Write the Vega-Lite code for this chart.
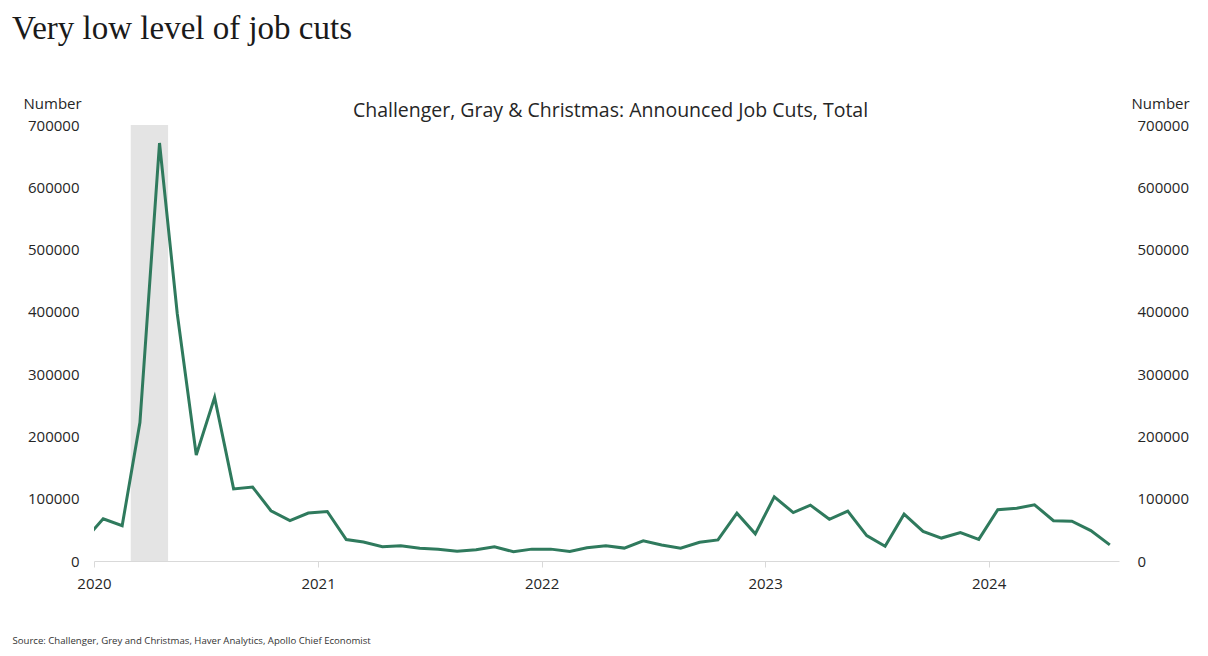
{
  "$schema": "https://vega.github.io/schema/vega-lite/v6.json",
  "width": 1025,
  "height": 436,
  "autosize": {"type": "none"},
  "padding": {"left": 94, "top": 125, "right": 89, "bottom": 95},
  "background": "white",
  "config": {
    "view": {"stroke": null},
    "font": "Open Sans",
    "axis": {"labelFont": "Open Sans", "titleFont": "Open Sans", "labelColor": "#262626", "titleColor": "#262626", "grid": false}
  },
  "title": {
    "text": "Very low level of job cuts",
    "anchor": "start",
    "frame": "group",
    "font": "Liberation Serif",
    "fontSize": 33,
    "fontWeight": "normal",
    "color": "#1a1a1a",
    "dx": -82,
    "offset": 50
  },
  "datasets": {
    "cuts": [
      {"date": "2019-12-16", "value": 32843},
      {"date": "2020-01-16", "value": 67735},
      {"date": "2020-02-16", "value": 56660},
      {"date": "2020-03-16", "value": 222288},
      {"date": "2020-04-17", "value": 671129},
      {"date": "2020-05-16", "value": 397016},
      {"date": "2020-06-16", "value": 170219},
      {"date": "2020-07-16", "value": 262649},
      {"date": "2020-08-16", "value": 115762},
      {"date": "2020-09-16", "value": 118804},
      {"date": "2020-10-16", "value": 80666},
      {"date": "2020-11-16", "value": 64797},
      {"date": "2020-12-16", "value": 77030},
      {"date": "2021-01-16", "value": 79552},
      {"date": "2021-02-16", "value": 34531},
      {"date": "2021-03-16", "value": 30603},
      {"date": "2021-04-16", "value": 22913},
      {"date": "2021-05-16", "value": 24586},
      {"date": "2021-06-16", "value": 20476},
      {"date": "2021-07-16", "value": 18942},
      {"date": "2021-08-16", "value": 15723},
      {"date": "2021-09-16", "value": 17895},
      {"date": "2021-10-16", "value": 22822},
      {"date": "2021-11-16", "value": 14875},
      {"date": "2021-12-16", "value": 19052},
      {"date": "2022-01-16", "value": 19064},
      {"date": "2022-02-16", "value": 15245},
      {"date": "2022-03-16", "value": 21387},
      {"date": "2022-04-16", "value": 24286},
      {"date": "2022-05-16", "value": 20712},
      {"date": "2022-06-16", "value": 32517},
      {"date": "2022-07-16", "value": 25810},
      {"date": "2022-08-16", "value": 20485},
      {"date": "2022-09-16", "value": 29989},
      {"date": "2022-10-16", "value": 33843},
      {"date": "2022-11-16", "value": 76835},
      {"date": "2022-12-16", "value": 43651},
      {"date": "2023-01-16", "value": 102943},
      {"date": "2023-02-16", "value": 77770},
      {"date": "2023-03-16", "value": 89703},
      {"date": "2023-04-16", "value": 66995},
      {"date": "2023-05-16", "value": 80089},
      {"date": "2023-06-16", "value": 40709},
      {"date": "2023-07-16", "value": 23697},
      {"date": "2023-08-16", "value": 75151},
      {"date": "2023-09-16", "value": 47457},
      {"date": "2023-10-16", "value": 36836},
      {"date": "2023-11-16", "value": 45510},
      {"date": "2023-12-16", "value": 34817},
      {"date": "2024-01-16", "value": 82307},
      {"date": "2024-02-16", "value": 84638},
      {"date": "2024-03-16", "value": 90309},
      {"date": "2024-04-16", "value": 64789},
      {"date": "2024-05-16", "value": 63816},
      {"date": "2024-06-16", "value": 48786},
      {"date": "2024-07-17", "value": 25885}
    ],
    "band": [{"start": "2020-03-01", "end": "2020-05-01"}]
  },
  "resolve": {"axis": {"x": "independent", "y": "independent"}},
  "layer": [
    {
      "data": {"name": "band"},
      "mark": {"type": "rect", "color": "#e4e4e4"},
      "encoding": {
        "x": {"field": "start", "type": "temporal",
          "scale": {"domain": [{"year": 2020, "month": 1, "date": 1}, {"year": 2024, "month": 8, "date": 1}]},
          "axis": {
            "orient": "bottom",
            "format": "%Y",
            "tickCount": {"interval": "year", "step": 1},
            "labelFontSize": 15,
            "labelPadding": 9,
            "labelFlush": false,
            "domainColor": "#d9d9d9",
            "tickColor": "#d9d9d9",
            "tickSize": 6,
            "title": "Source: Challenger, Grey and Christmas, Haver Analytics, Apollo Chief Economist",
            "titleFontSize": 9.6,
            "titleFontWeight": "normal",
            "titleColor": "#333333",
            "titleAlign": "left",
            "titleAnchor": "start",
            "titleBaseline": "alphabetic",
            "titleX": -82,
            "titleY": 82
          }
        },
        "x2": {"field": "end"}
      }
    },
    {
      "data": {"name": "cuts"},
      "mark": {"type": "line", "color": "#2f7a5d", "strokeWidth": 3, "clip": true},
      "encoding": {
        "x": {"field": "date", "type": "temporal", "axis": null},
        "y": {"field": "value", "type": "quantitative",
          "scale": {"domain": [0, 700000], "nice": false},
          "axis": {
            "orient": "left",
            "values": [0, 100000, 200000, 300000, 400000, 500000, 600000, 700000],
            "format": "d",
            "labelFontSize": 15,
            "labelPadding": 15,
            "ticks": false,
            "tickSize": 0,
            "domain": false,
            "title": "Number",
            "titleAngle": 0,
            "titleFontSize": 15,
            "titleFontWeight": "normal",
            "titleAlign": "left",
            "titleBaseline": "alphabetic",
            "titleX": -71,
            "titleY": -17
          }
        }
      }
    },
    {
      "data": {"name": "cuts"},
      "mark": {"type": "line", "color": "#2f7a5d", "strokeWidth": 3, "clip": true, "opacity": 0},
      "encoding": {
        "x": {"field": "date", "type": "temporal",
          "axis": {
            "orient": "top",
            "labels": false,
            "ticks": false,
            "domain": false,
            "title": "Challenger, Gray & Christmas: Announced Job Cuts, Total",
            "titleFontSize": 19.5,
            "titleFontWeight": "normal",
            "titleColor": "#262626",
            "titleAlign": "center",
            "titleBaseline": "alphabetic",
            "titleX": 516,
            "titleY": -9
          }
        },
        "y": {"field": "value", "type": "quantitative",
          "axis": {
            "orient": "right",
            "values": [0, 100000, 200000, 300000, 400000, 500000, 600000, 700000],
            "format": "d",
            "labelFontSize": 15,
            "labelPadding": 18,
            "ticks": false,
            "tickSize": 0,
            "domain": false,
            "title": "Number",
            "titleAngle": 0,
            "titleFontSize": 15,
            "titleFontWeight": "normal",
            "titleAlign": "left",
            "titleBaseline": "alphabetic",
            "titleX": 12,
            "titleY": -17
          }
        }
      }
    }
  ]
}
